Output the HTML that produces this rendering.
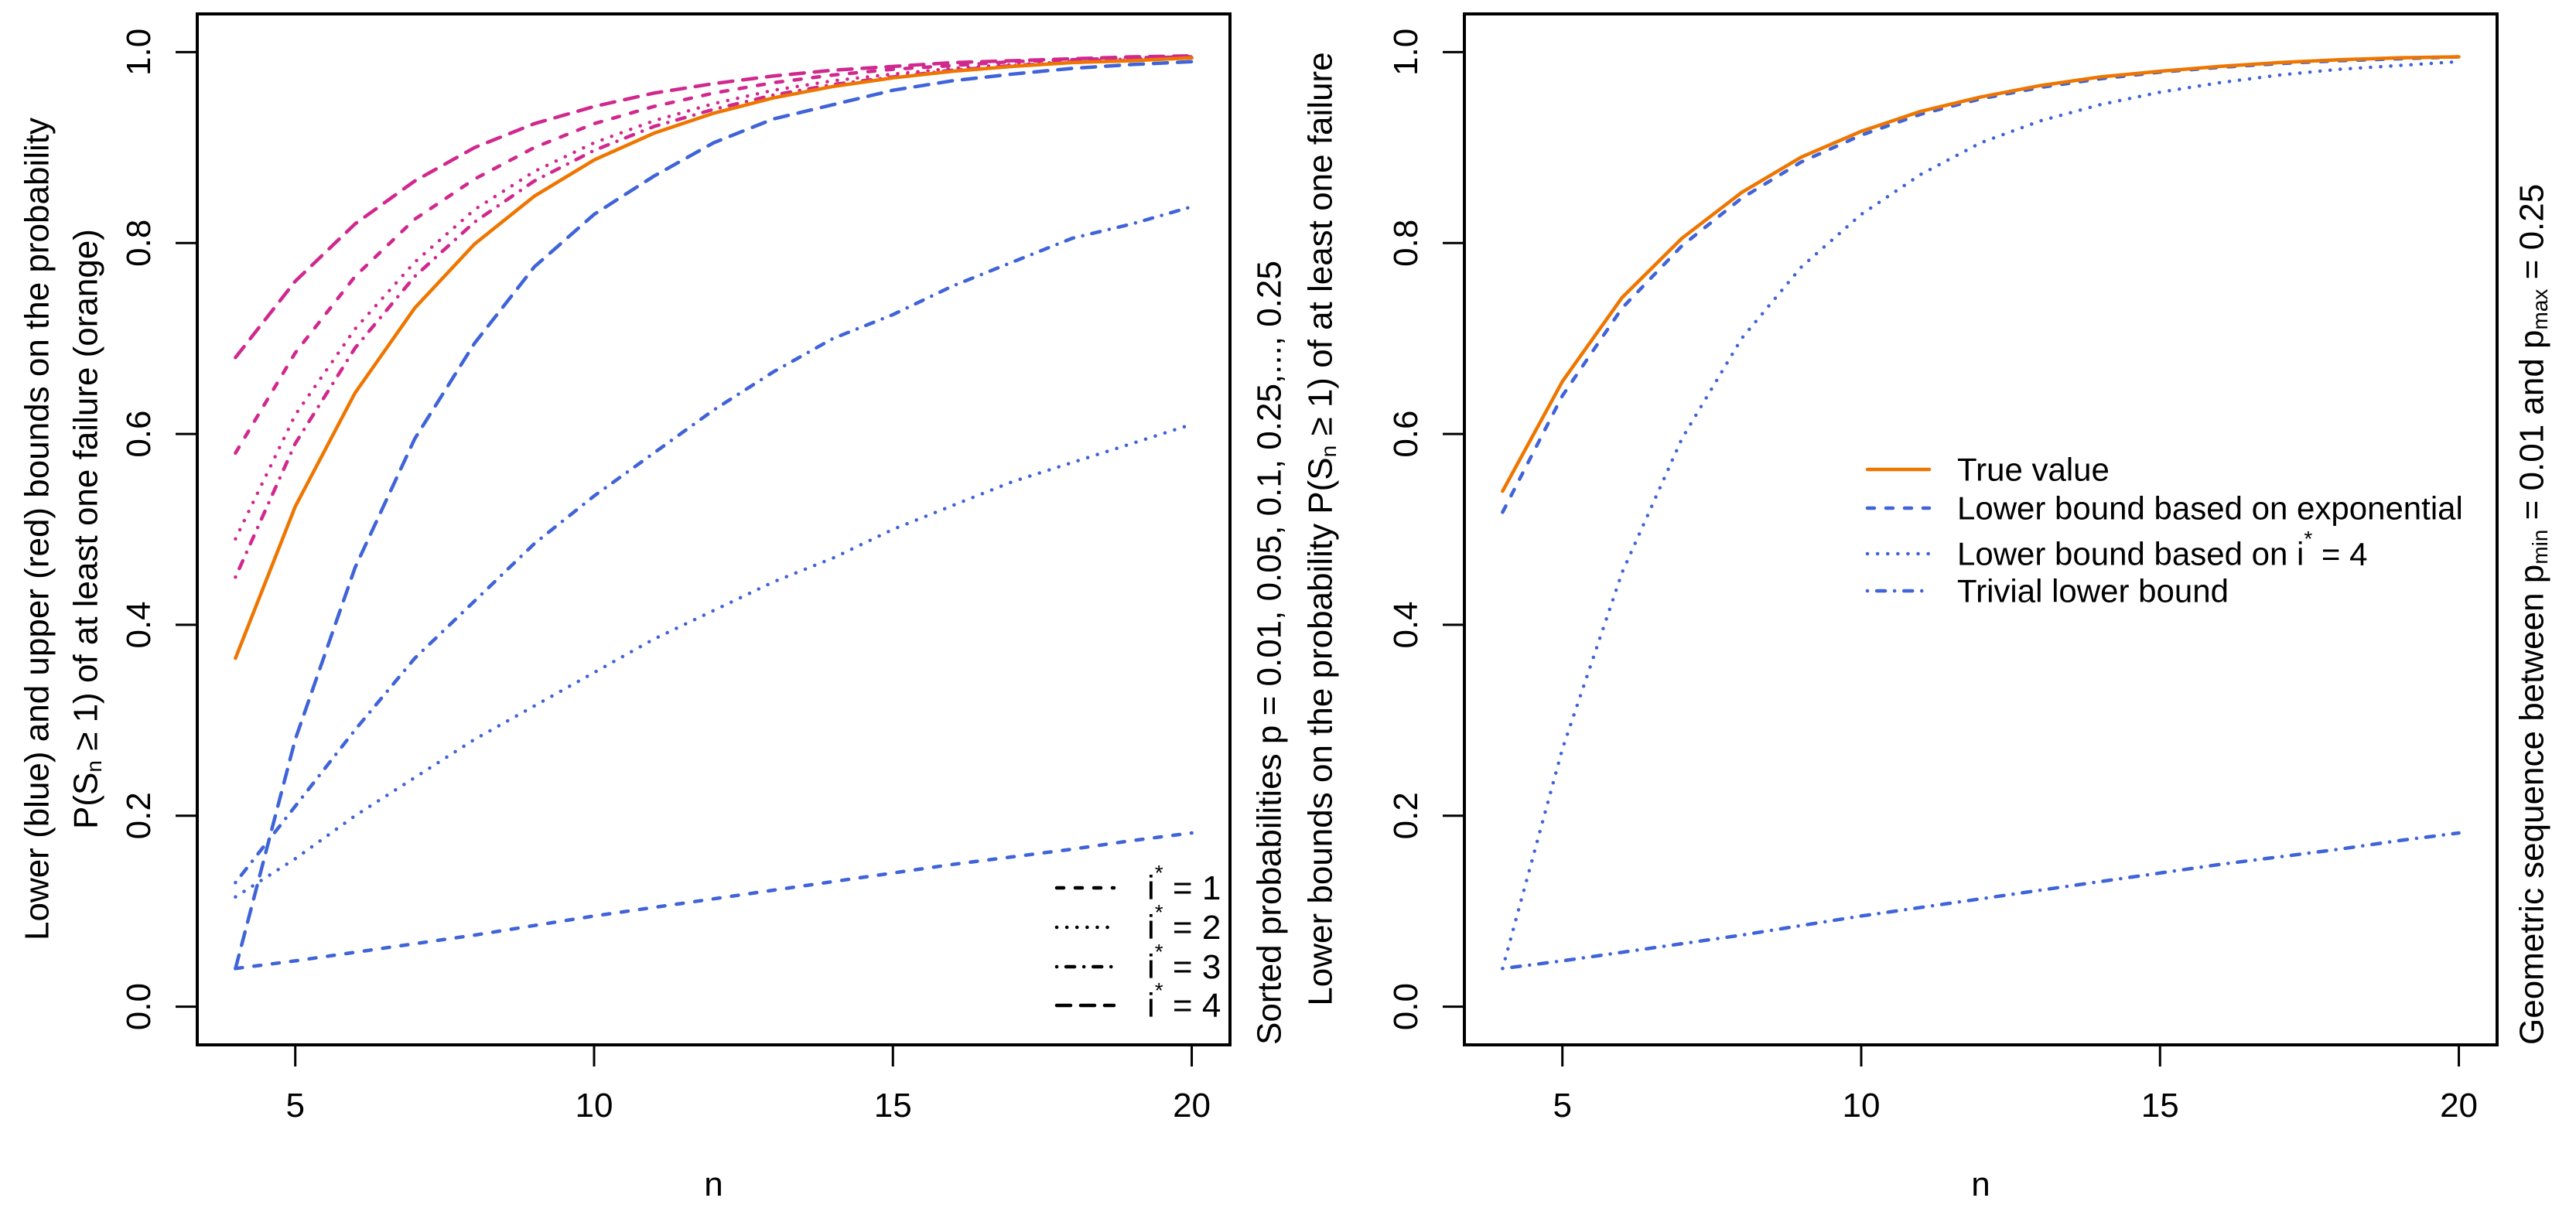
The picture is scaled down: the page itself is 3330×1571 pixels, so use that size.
<!DOCTYPE html>
<html><head><meta charset="utf-8"><title>Bounds on P(Sn ≥ 1)</title>
<style>
html,body{margin:0;padding:0;background:#fff;}
svg{display:block;font-family:"Liberation Sans",Arial,sans-serif;}
</style></head>
<body>
<svg id="chart" width="3330" height="1571" viewBox="0 0 3330 1571" xmlns="http://www.w3.org/2000/svg">
<rect x="0" y="0" width="3330" height="1571" fill="#fff"/>
<g id="left"></g>
<g id="right"></g>
</svg>
<script>
const nVals = [4,5,6,7,8,9,10,11,12,13,14,15,16,17,18,19,20];
const xTicks = [5,10,15,20];
const yTicks = [0,0.2,0.4,0.6,0.8,1.0];
const yTickLabels = ["0.0","0.2","0.4","0.6","0.8","1.0"];
// Left panel
const leftTrue = [0.365,0.524,0.643,0.732,0.799,0.849,0.887,0.915,0.936,0.952,0.964,0.973,0.980,0.985,0.989,0.991,0.994];
const leftLow1 = [0.04,0.048,0.057,0.066,0.075,0.085,0.095,0.104,0.113,0.122,0.131,0.140,0.149,0.157,0.165,0.174,0.182];
const leftLow2 = [0.115,0.155,0.20,0.24,0.28,0.315,0.35,0.385,0.415,0.445,0.47,0.50,0.525,0.55,0.57,0.59,0.61];
const leftLow3 = [0.13,0.21,0.29,0.365,0.425,0.485,0.535,0.58,0.625,0.665,0.70,0.725,0.755,0.78,0.805,0.82,0.838];
const leftLow4 = [0.04,0.28,0.46,0.595,0.695,0.775,0.83,0.87,0.905,0.93,0.945,0.96,0.97,0.977,0.983,0.987,0.99];
const leftUp1 = [0.58,0.685,0.765,0.825,0.867,0.90,0.925,0.943,0.957,0.968,0.976,0.982,0.986,0.99,0.992,0.994,0.995];
const leftUp2 = [0.49,0.62,0.71,0.78,0.835,0.875,0.905,0.928,0.946,0.96,0.97,0.977,0.983,0.987,0.99,0.993,0.995];
const leftUp3 = [0.45,0.59,0.69,0.765,0.822,0.865,0.897,0.922,0.94,0.955,0.966,0.974,0.981,0.986,0.989,0.992,0.994];
const leftUp4 = [0.68,0.76,0.82,0.865,0.90,0.925,0.943,0.957,0.967,0.975,0.981,0.985,0.989,0.991,0.993,0.995,0.996];
// Right panel
const rightTrue = [0.54,0.655,0.743,0.805,0.853,0.89,0.917,0.938,0.953,0.965,0.974,0.98,0.985,0.989,0.992,0.994,0.995];
const rightExp = [0.518,0.64,0.732,0.797,0.847,0.885,0.913,0.935,0.951,0.963,0.972,0.979,0.984,0.988,0.991,0.993,0.995];
const rightI4 = [0.04,0.27,0.455,0.595,0.70,0.775,0.83,0.872,0.905,0.928,0.945,0.958,0.968,0.976,0.982,0.986,0.99];
const rightTrivial = [0.04,0.048,0.057,0.066,0.075,0.085,0.095,0.104,0.113,0.122,0.131,0.140,0.149,0.157,0.165,0.174,0.182];

const NS = "http://www.w3.org/2000/svg";
const ORANGE = "#EE7600", BLUE = "#3F63D8", RED = "#D0288E";
const DASH = {solid:"", dashed:"9,15", dotted:"0.1,13", dotdash:"0.1,12,11,12", longdash:"18,13"};
const BOX_TOP = 18, BOX_BOT = 1351, BOX_W = 1335;
const XMIN = 3.36, XMAX = 20.64, YMIN = -0.04, YMAX = 1.04;

function mk(tag, attrs, parent){
  const e = document.createElementNS(NS, tag);
  for (const k in attrs) e.setAttribute(k, attrs[k]);
  parent.appendChild(e);
  return e;
}
function makeAxes(left){
  const xs = n => left + (n - XMIN) / (XMAX - XMIN) * BOX_W;
  const ys = v => BOX_BOT - (v - YMIN) / (YMAX - YMIN) * (BOX_BOT - BOX_TOP);
  return {xs, ys};
}
function drawFrame(g, left, ax, name){
  const box = mk("rect", {x:left, y:BOX_TOP, width:BOX_W, height:BOX_BOT-BOX_TOP, fill:"none", stroke:"#000", "stroke-width":4}, g);
  
  
  xTicks.forEach(t => {
    const x = ax.xs(t);
    const tk = mk("line", {x1:x, y1:BOX_BOT, x2:x, y2:BOX_BOT+28, stroke:"#000", "stroke-width":3}, g);
    
    
    const lb = mk("text", {x:x, y:1444, "font-size":44, "text-anchor":"middle"}, g);
    lb.textContent = String(t);
    
    
  });
  yTicks.forEach((t, i) => {
    const y = ax.ys(t);
    const tk = mk("line", {x1:left-28, y1:y, x2:left, y2:y, stroke:"#000", "stroke-width":3}, g);
    
    
    const lx = left - 61;
    const lb = mk("text", {x:lx, y:y, "font-size":44, "text-anchor":"middle", transform:`rotate(-90 ${lx} ${y})`}, g);
    lb.textContent = yTickLabels[i];
    
    
  });
  const nl = mk("text", {x:left + BOX_W/2, y:1546, "font-size":44, "text-anchor":"middle"}, g);
  nl.textContent = "n";
  
  
}
function drawLine(g, ax, vals, color, dash, name){
  const pts = nVals.map((n, i) => ax.xs(n).toFixed(1) + "," + ax.ys(vals[i]).toFixed(1)).join(" ");
  const p = mk("polyline", {points:pts, fill:"none", stroke:color, "stroke-width":4.5, "stroke-dasharray":DASH[dash], "stroke-linejoin":"round", "stroke-linecap":"round"}, g);
  
  
}
function rotText(g, x, y, anchor, html, name, size){
  const t = mk("text", {x:x, y:y, "font-size":size||44, "text-anchor":anchor, "dominant-baseline":"central", transform:`rotate(-90 ${x} ${y})`}, g);
  t.innerHTML = html;
  
  
  return t;
}
function legendEntry(g, x1, x2, tx, y, color, dash, html, name, fs){
  const l = mk("line", {x1:x1, y1:y, x2:x2, y2:y, stroke:color, "stroke-width":4.5, "stroke-dasharray":DASH[dash], "stroke-linecap":"round"}, g);
  
  
  const t = mk("text", {x:tx, y:y, "font-size":fs||44, "dominant-baseline":"central"}, g);
  t.innerHTML = html;
  
  
}

const SUB = (s) => `<tspan font-size="28" dy="10">${s}</tspan><tspan dy="-10"> </tspan>`;
const ISTAR = (k) => `i<tspan font-size="28" dy="-20">*</tspan><tspan dy="20"> = ${k}</tspan>`;

// LEFT PANEL
(function(){
  const g = document.getElementById("left");
  const L = 255;
  const ax = makeAxes(L);
  drawFrame(g, L, ax, "left");
  drawLine(g, ax, leftUp1, RED, "dashed", "upper-bound-i1");
  drawLine(g, ax, leftUp2, RED, "dotted", "upper-bound-i2");
  drawLine(g, ax, leftUp3, RED, "dotdash", "upper-bound-i3");
  drawLine(g, ax, leftUp4, RED, "longdash", "upper-bound-i4");
  drawLine(g, ax, leftLow1, BLUE, "dashed", "lower-bound-i1");
  drawLine(g, ax, leftLow2, BLUE, "dotted", "lower-bound-i2");
  drawLine(g, ax, leftLow3, BLUE, "dotdash", "lower-bound-i3");
  drawLine(g, ax, leftLow4, BLUE, "longdash", "lower-bound-i4");
  drawLine(g, ax, leftTrue, ORANGE, "solid", "true-value-line");
  legendEntry(g, 1366, 1440, 1483, 1148, "#000", "dashed", ISTAR(1), "legend-entry-i1");
  legendEntry(g, 1366, 1440, 1483, 1199, "#000", "dotted", ISTAR(2), "legend-entry-i2");
  legendEntry(g, 1366, 1440, 1483, 1250, "#000", "dotdash", ISTAR(3), "legend-entry-i3");
  legendEntry(g, 1366, 1440, 1483, 1300, "#000", "longdash", ISTAR(4), "legend-entry-i4");
  rotText(g, 48, 684, "middle", "Lower (blue) and upper (red) bounds on the probability", "left-y-axis-title-line1");
  rotText(g, 111, 684, "middle", "P(S" + SUB("n") + "≥ 1) of at least one failure (orange)", "left-y-axis-title-line2");
  rotText(g, 1641, 1351, "start", "Sorted probabilities p = 0.01, 0.05, 0.1, 0.25,..., 0.25", "left-right-axis-note");
})();

// RIGHT PANEL
(function(){
  const g = document.getElementById("right");
  const L = 1893;
  const ax = makeAxes(L);
  drawFrame(g, L, ax, "right");
  drawLine(g, ax, rightTrivial, BLUE, "dotdash", "trivial-lower-bound");
  drawLine(g, ax, rightI4, BLUE, "dotted", "lower-bound-i4");
  drawLine(g, ax, rightExp, BLUE, "dashed", "lower-bound-exponential");
  drawLine(g, ax, rightTrue, ORANGE, "solid", "true-value-line");
  legendEntry(g, 2414, 2494, 2530, 607, ORANGE, "solid", "True value", "legend-entry-true-value", 42);
  legendEntry(g, 2414, 2494, 2530, 657, BLUE, "dashed", "Lower bound based on exponential", "legend-entry-exponential", 42);
  legendEntry(g, 2414, 2494, 2530, 716, BLUE, "dotted", "Lower bound based on " + ISTAR(4), "legend-entry-i4", 42);
  legendEntry(g, 2414, 2494, 2530, 764, BLUE, "dotdash", "Trivial lower bound", "legend-entry-trivial", 42);
  rotText(g, 1707, 684, "middle", "Lower bounds on the probability P(S" + SUB("n") + "≥ 1) of at least one failure", "right-y-axis-title");
  rotText(g, 3273, 1351, "start", "Geometric sequence between p" + SUB("min") + "= 0.01 and p" + SUB("max") + "= 0.25", "right-right-axis-note");
})();
</script>
</body></html>
